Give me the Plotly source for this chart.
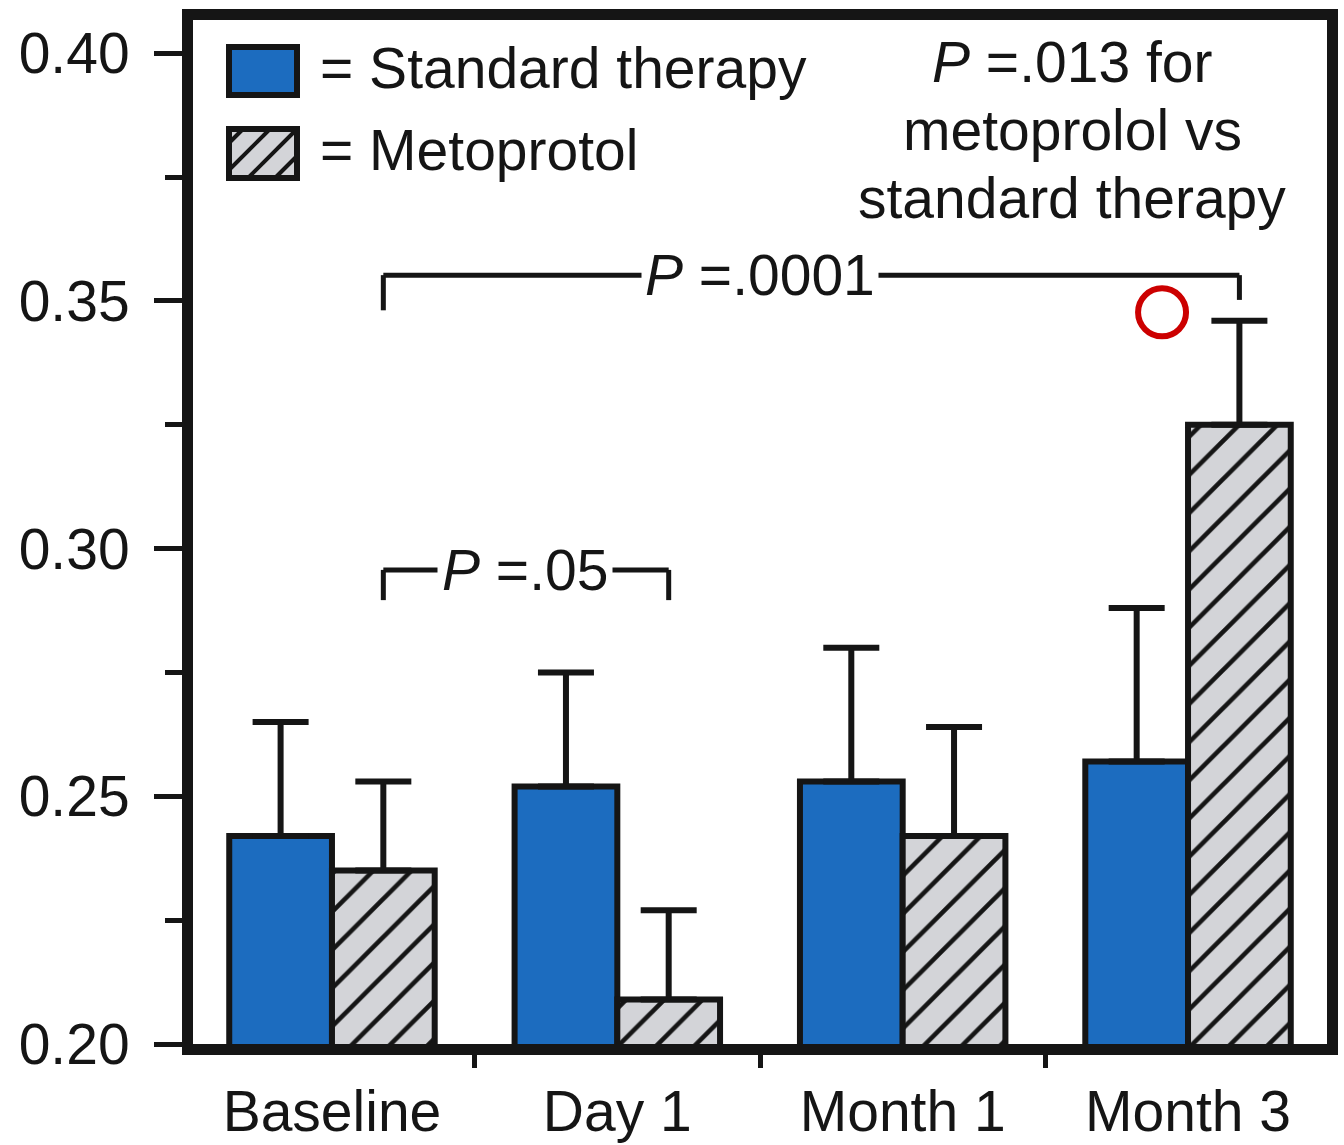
import plotly.graph_objects as go

# Category labels and group means / upper SD for each treatment arm
categories = ["Baseline", "Day 1", "Month 1", "Month 3"]
standard_mean = [0.242, 0.252, 0.253, 0.257]
standard_err = [0.023, 0.023, 0.027, 0.031]
metoprolol_mean = [0.235, 0.209, 0.242, 0.325]
metoprolol_err = [0.018, 0.018, 0.022, 0.021]

y_ticks = [0.20, 0.25, 0.30, 0.35, 0.40]
y_tick_labels = ["0.20", "0.25", "0.30", "0.35", "0.40"]

BLUE = "#1c6cbf"
HATCH_BG = "#d3d4d8"
INK = "#151515"
FONT = "Liberation Sans, Arial, Helvetica, sans-serif"
FS = 57

W, H = 1344, 1145
ML, MR, MT, MB = 193, 17, 20, 101
PW, PH = W - ML - MR, H - MT - MB

x_idx = list(range(len(categories)))

fig = go.Figure()

fig.add_trace(go.Bar(
    x=x_idx, y=standard_mean, name="Standard therapy",
    marker=dict(color=BLUE, line=dict(color=INK, width=6)),
    error_y=dict(type="data", symmetric=False, array=standard_err,
                 arrayminus=[0] * len(standard_err),
                 color=INK, thickness=6, width=28),
))
fig.add_trace(go.Bar(
    x=x_idx, y=metoprolol_mean, name="Metoprotol",
    marker=dict(color=HATCH_BG, line=dict(color=INK, width=6),
                pattern=dict(shape="/", fgcolor=INK, bgcolor=HATCH_BG,
                             fgopacity=1, size=27, solidity=0.17)),
    error_y=dict(type="data", symmetric=False, array=metoprolol_err,
                 arrayminus=[0] * len(metoprolol_err),
                 color=INK, thickness=6, width=28),
))

# marker ring near the Month 3 metoprolol error bar
fig.add_trace(go.Scatter(
    x=[2.909], y=[0.3477], mode="markers", hoverinfo="skip",
    marker=dict(symbol="circle-open", size=48, color="#cc0000",
                line=dict(width=6, color="#cc0000")),
))


def px_to_paper(px, py):
    return (px - ML) / PW, (H - MB - py) / PH


shapes = []

# significance brackets (data coordinates: bar centre offset = 0.18)
off = 0.18
bracket_style = dict(type="line", xref="x", yref="y",
                     line=dict(color=INK, width=5), layer="above")
# P = .0001: baseline metoprolol vs month 3 metoprolol
shapes += [
    dict(x0=0 + off, x1=3 + off, y0=0.3552, y1=0.3552, **bracket_style),
    dict(x0=0 + off, x1=0 + off, y0=0.3552, y1=0.3481, **bracket_style),
    dict(x0=3 + off, x1=3 + off, y0=0.3552, y1=0.3502, **bracket_style),
]
# P = .05: baseline metoprolol vs day 1 metoprolol
shapes += [
    dict(x0=0 + off, x1=1 + off, y0=0.2957, y1=0.2957, **bracket_style),
    dict(x0=0 + off, x1=0 + off, y0=0.2957, y1=0.2896, **bracket_style),
    dict(x0=1 + off, x1=1 + off, y0=0.2957, y1=0.2896, **bracket_style),
]

# legend swatches
bx0, bx1 = 229, 297
x0p, y0p = px_to_paper(bx0, 47)
x1p, y1p = px_to_paper(bx1, 95)
shapes.append(dict(type="rect", xref="paper", yref="paper",
                   x0=x0p, x1=x1p, y0=y1p, y1=y0p,
                   fillcolor=BLUE, line=dict(color=INK, width=6)))
hy0, hy1 = 129, 178
x0p, y0p = px_to_paper(bx0, hy0)
x1p, y1p = px_to_paper(bx1, hy1)
shapes.append(dict(type="rect", xref="paper", yref="paper",
                   x0=x0p, x1=x1p, y0=y1p, y1=y0p,
                   fillcolor=HATCH_BG, line=dict(color=INK, width=0)))
for c in range(372, 480, 27):
    xa = max(bx0, c - hy1)
    xb = min(bx1, c - hy0)
    if xb <= xa:
        continue
    pa = px_to_paper(xa, c - xa)
    pb = px_to_paper(xb, c - xb)
    shapes.append(dict(type="line", xref="paper", yref="paper",
                       x0=pa[0], y0=pa[1], x1=pb[0], y1=pb[1],
                       line=dict(color=INK, width=4)))
shapes.append(dict(type="rect", xref="paper", yref="paper",
                   x0=x0p, x1=x1p, y0=y1p, y1=y0p,
                   fillcolor="rgba(0,0,0,0)", line=dict(color=INK, width=6)))

annotations = []


def text_at(px, py, text, xanchor="left"):
    xp, yp = px_to_paper(px, py)
    annotations.append(dict(x=xp, y=yp, xref="paper", yref="paper",
                            text=text, showarrow=False, xanchor=xanchor,
                            yanchor="middle",
                            font=dict(family=FONT, size=FS, color=INK)))


text_at(318, 68, "= Standard therapy")
text_at(318, 150, "= Metoprotol")
text_at(1072, 62, "<i>P</i> =.013 for", xanchor="center")
text_at(1072, 130, "metoprolol vs", xanchor="center")
text_at(1072, 198, "standard therapy", xanchor="center")

annotations.append(dict(x=1.5, y=0.3552, xref="x", yref="y",
                        text="<i>P</i> =.0001", showarrow=False,
                        bgcolor="white", borderpad=3,
                        font=dict(family=FONT, size=FS, color=INK)))
annotations.append(dict(x=0.677, y=0.2957, xref="x", yref="y",
                        text="<i>P</i> =.05", showarrow=False,
                        bgcolor="white", borderpad=4,
                        font=dict(family=FONT, size=FS, color=INK)))

fig.update_layout(
    width=W, height=H,
    margin=dict(l=ML, r=MR, t=MT, b=MB, autoexpand=False),
    paper_bgcolor="white", plot_bgcolor="white",
    barmode="group", bargap=0.28, bargroupgap=0,
    showlegend=False,
    font=dict(family=FONT, size=FS, color=INK),
    shapes=shapes, annotations=annotations,
    xaxis=dict(
        range=[-0.487, 3.487], tickmode="array", tickvals=x_idx,
        ticktext=categories, ticks="", showgrid=False, zeroline=False,
        showline=True, linecolor=INK, linewidth=11, mirror=True,
        automargin=False, ticklabelstandoff=8,
        tickfont=dict(family=FONT, size=FS, color=INK),
        minor=dict(tickmode="array", tickvals=[0.5, 1.5, 2.5],
                   ticks="outside", ticklen=13, tickwidth=5, tickcolor=INK,
                   showgrid=False),
    ),
    yaxis=dict(
        range=[0.2, 0.4067], tickmode="array", tickvals=y_ticks,
        ticktext=y_tick_labels, ticks="outside", ticklen=28, tickwidth=5,
        tickcolor=INK, showgrid=False, zeroline=False,
        showline=True, linecolor=INK, linewidth=11, mirror=True,
        automargin=False, ticklabelstandoff=13,
        tickfont=dict(family=FONT, size=FS, color=INK),
        minor=dict(tickmode="array",
                   tickvals=[0.225, 0.275, 0.325, 0.375],
                   ticks="outside", ticklen=17, tickwidth=5, tickcolor=INK,
                   showgrid=False),
    ),
)

fig.write_html("out.html")
